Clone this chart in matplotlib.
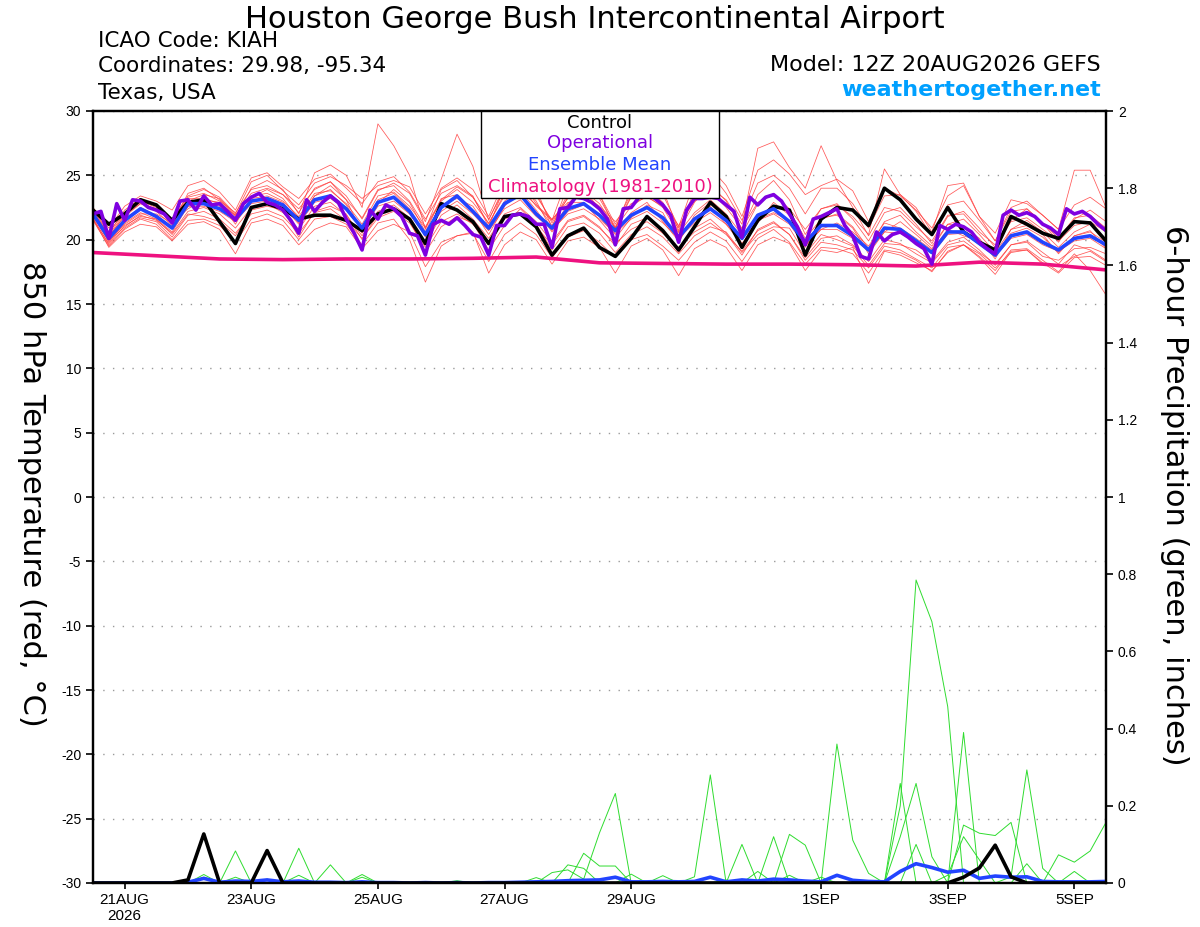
import numpy as np
import pandas as pd
import matplotlib
matplotlib.use("Agg")
import matplotlib.pyplot as plt
from matplotlib.patches import Rectangle

plt.rcParams["font.family"] = ["DejaVu Sans"]
plt.rcParams["axes.unicode_minus"] = False

# GEFS run 12Z 20AUG2026, 6-hourly out to 384 h (operational GFS 3-hourly)
times = pd.date_range("2026-08-20 12:00", periods=65, freq="6h")
times_op = pd.date_range("2026-08-20 12:00", periods=129, freq="3h")
times_clim = pd.date_range("2026-08-20 12:00", periods=17, freq="24h")

tick_days = pd.to_datetime(["2026-08-21", "2026-08-23", "2026-08-25", "2026-08-27",
                            "2026-08-29", "2026-09-01", "2026-09-03", "2026-09-05"])

# 850 hPa temperature (C)
control_t = [22.3, 21.2, 22.0, 23.1, 22.7, 21.5, 22.9, 23.1, 21.4, 19.7, 22.5, 22.8, 22.4,
             21.6, 21.9, 21.9, 21.5, 20.7, 22.0, 22.4, 21.6, 19.7, 22.8, 22.3, 21.4, 19.7,
             21.8, 22.0, 21.0, 18.8, 20.3, 20.9, 19.4, 18.7, 20.1, 21.8, 20.7, 19.2, 21.0,
             22.9, 21.8, 19.4, 21.5, 22.6, 22.3, 18.8, 21.6, 22.5, 22.3, 21.1, 24.0, 23.1,
             21.6, 20.4, 22.5, 20.6, 19.8, 19.2, 21.8, 21.2, 20.5, 20.1, 21.4, 21.3, 19.9]

mean_t = [22.0, 20.1, 21.5, 22.4, 21.8, 20.9, 22.8, 22.8, 22.4, 21.6, 23.0, 23.2, 22.7,
          21.5, 23.1, 23.4, 22.4, 20.9, 22.9, 23.3, 22.2, 20.4, 22.5, 23.4, 22.2, 20.9,
          22.8, 23.5, 22.0, 20.9, 22.4, 22.8, 21.9, 20.7, 21.9, 22.5, 21.7, 20.2, 21.6,
          22.4, 21.5, 20.1, 21.9, 22.4, 21.4, 19.8, 21.1, 21.1, 20.3, 19.2, 20.9, 20.8,
          19.9, 19.0, 20.6, 20.6, 19.7, 18.8, 20.3, 20.6, 19.8, 19.2, 20.1, 20.3, 19.6]

oper_t = [22.0, 22.2, 20.1, 22.8, 21.5, 23.1, 23.0, 22.5, 22.3, 22.0, 21.3, 23.0, 23.1,
          22.3, 23.4, 22.7, 22.8, 22.2, 21.5, 22.8, 23.3, 23.6, 22.9, 22.7, 22.3, 21.5,
          20.5, 23.1, 22.2, 22.9, 23.4, 22.9, 21.6, 20.5, 19.2, 22.3, 21.6, 22.7, 22.4,
          21.8, 20.5, 20.3, 18.8, 21.2, 21.5, 21.2, 21.7, 21.1, 20.4, 20.2, 18.8, 21.1,
          21.1, 21.9, 22.0, 21.8, 21.2, 21.2, 19.4, 22.4, 22.5, 23.3, 23.2, 22.9, 22.4,
          21.6, 19.6, 22.4, 22.5, 23.3, 23.7, 23.2, 22.7, 21.9, 19.8, 22.3, 23.2, 23.2,
          23.3, 23.2, 22.7, 22.2, 20.2, 23.3, 22.7, 23.3, 23.5, 23.0, 22.0, 21.0, 19.6,
          21.6, 21.8, 22.1, 22.4, 21.1, 20.3, 18.7, 18.5, 20.6, 19.9, 20.4, 20.6, 20.2,
          19.7, 19.3, 18.1, 21.1, 20.8, 21.2, 21.0, 20.6, 19.8, 19.3, 18.9, 21.9, 22.3,
          21.9, 22.1, 21.8, 21.2, 20.9, 20.4, 22.4, 22.0, 22.2, 21.8, 21.2, 20.7]

clim_t = [19.0, 18.75, 18.5, 18.45, 18.5, 18.5, 18.55, 18.65, 18.2,
          18.15, 18.1, 18.1, 18.05, 17.95, 18.25, 18.1, 17.65]

members_t = [
    [22.3, 20.5, 22.3, 23.2, 22.6, 21.2, 23.6, 24.0, 23.1, 21.8, 24.0, 24.6, 23.9,
     22.0, 25.2, 25.8, 25.0, 22.5, 29.0, 27.3, 25.0, 20.8, 23.9, 24.6, 23.3,
     21.2, 23.6, 24.5, 23.0, 20.7, 22.8, 23.9, 22.4, 20.9, 22.6, 23.4, 22.5,
     20.5, 22.1, 23.1, 22.0, 20.4, 22.8, 23.6, 22.2, 20.1, 21.6, 22.0, 21.0,
     19.3, 21.4, 21.9, 20.6, 19.5, 21.2, 21.6, 20.4, 19.0, 20.8, 21.5, 20.6,
     19.4, 20.6, 21.2, 20.0],
    [22.1, 20.3, 21.8, 22.8, 22.4, 21.5, 23.0, 23.5, 23.2, 21.9, 23.6, 24.0, 23.5,
     22.4, 23.9, 24.5, 23.4, 21.6, 23.8, 24.4, 23.6, 21.4, 24.7, 28.2, 25.7,
     21.5, 24.2, 25.3, 23.6, 21.3, 23.5, 24.4, 23.2, 21.0, 23.4, 24.0, 22.9,
     20.6, 22.9, 24.3, 23.0, 20.8, 23.5, 24.6, 23.1, 20.4, 22.4, 22.8, 21.6,
     19.9, 22.1, 22.5, 21.2, 19.7, 21.8, 22.2, 20.9, 19.4, 21.5, 22.4, 21.3,
     19.8, 21.6, 22.3, 21.4],
    [21.6, 19.4, 20.6, 21.2, 21.0, 19.9, 21.2, 21.4, 20.8, 18.9, 21.3, 21.6, 21.1,
     19.6, 20.8, 21.3, 21.0, 19.3, 20.7, 21.2, 20.6, 17.9, 19.8, 20.3, 20.6,
     17.4, 19.6, 20.6, 20.0, 18.1, 19.9, 20.2, 19.4, 17.4, 19.5, 20.1, 19.2,
     17.2, 19.3, 20.0, 19.4, 17.6, 19.6, 20.2, 19.7, 17.6, 19.2, 19.0, 19.4,
     16.6, 19.1, 18.8, 18.2, 17.6, 19.0, 19.6, 18.6, 17.3, 19.1, 19.2, 18.2,
     17.4, 18.6, 18.7, 18.0],
    [22.5, 20.9, 22.6, 23.4, 23.0, 22.3, 24.2, 24.6, 23.7, 22.3, 24.8, 25.2, 24.1,
     23.2, 24.7, 25.1, 24.0, 22.8, 24.5, 24.9, 23.7, 21.6, 23.6, 24.2, 23.4,
     21.0, 24.1, 24.8, 23.4, 21.5, 24.9, 25.3, 23.5, 21.2, 23.6, 24.4, 23.5,
     21.0, 24.5, 25.6, 24.2, 21.8, 25.4, 26.2, 25.1, 23.5, 24.2, 24.7, 23.8,
     21.4, 24.0, 23.4, 22.3, 20.9, 23.4, 24.2, 21.8, 20.5, 23.1, 22.8, 21.9,
     20.8, 22.7, 23.3, 22.4],
    [21.9, 19.8, 21.3, 22.1, 21.6, 20.6, 22.6, 22.9, 22.6, 21.5, 23.2, 23.4, 22.9,
     21.3, 23.4, 23.9, 22.7, 20.7, 23.1, 23.6, 22.4, 20.2, 22.7, 23.2, 22.6,
     20.8, 23.0, 23.8, 22.3, 20.6, 22.2, 22.7, 21.8, 20.4, 22.1, 22.9, 21.4,
     19.9, 21.7, 22.6, 21.2, 19.6, 21.6, 22.1, 21.5, 19.6, 20.8, 21.3, 20.6,
     19.5, 21.3, 20.9, 20.1, 19.2, 20.8, 20.3, 19.9, 18.9, 20.5, 20.9, 20.2,
     19.0, 20.3, 20.7, 19.3],
    [21.7, 19.6, 20.9, 21.7, 21.4, 20.2, 21.9, 22.2, 21.6, 20.5, 22.0, 22.3, 21.8,
     20.5, 22.1, 22.4, 21.5, 20.1, 21.7, 22.2, 21.3, 19.4, 21.4, 22.0, 21.2,
     19.8, 21.6, 22.1, 21.0, 19.6, 21.4, 21.8, 20.9, 19.7, 20.8, 21.4, 20.5,
     19.4, 20.6, 21.3, 20.4, 19.1, 20.7, 21.3, 20.4, 18.6, 20.1, 20.3, 19.6,
     18.3, 20.0, 19.7, 18.9, 18.2, 19.6, 19.9, 19.0, 18.1, 19.6, 19.8, 18.7,
     18.4, 19.3, 19.4, 18.9],
    [22.2, 20.4, 22.0, 22.9, 22.2, 21.1, 23.2, 23.2, 22.8, 21.9, 23.4, 23.6, 23.0,
     21.8, 23.6, 23.8, 22.8, 21.2, 23.4, 23.7, 22.6, 20.9, 23.0, 23.9, 22.9,
     21.3, 23.4, 24.2, 22.6, 21.5, 23.2, 23.5, 22.6, 21.4, 22.8, 23.3, 22.6,
     20.9, 23.2, 24.0, 23.1, 21.2, 27.1, 27.6, 25.6, 24.0, 27.3, 24.6, 22.5,
     20.3, 22.5, 22.2, 21.0, 19.9, 21.9, 22.0, 20.6, 19.6, 21.4, 21.7, 20.8,
     19.9, 21.1, 21.4, 20.6],
    [21.8, 19.9, 21.0, 21.9, 21.5, 20.5, 22.2, 22.5, 22.0, 20.9, 22.5, 22.8, 22.1,
     20.8, 22.6, 22.9, 21.9, 20.3, 22.2, 22.7, 21.7, 19.6, 21.9, 22.7, 21.6,
     20.1, 22.0, 22.5, 21.4, 19.8, 21.5, 21.9, 21.0, 19.5, 21.2, 21.7, 20.8,
     19.0, 20.9, 21.6, 20.5, 18.8, 20.8, 21.4, 20.4, 18.4, 19.8, 19.6, 19.2,
     17.8, 19.5, 19.2, 18.5, 17.8, 19.4, 19.6, 18.7, 17.6, 19.2, 19.3, 18.4,
     17.5, 18.9, 17.6, 15.7],
    [22.4, 20.6, 22.1, 23.0, 22.5, 21.4, 23.3, 23.6, 23.0, 22.1, 23.9, 24.2, 23.5,
     22.1, 24.0, 24.5, 23.1, 21.7, 23.9, 24.2, 23.0, 21.0, 23.1, 24.1, 23.3,
     21.6, 23.9, 24.6, 22.8, 21.1, 23.3, 23.8, 22.8, 20.9, 23.3, 24.0, 22.8,
     21.1, 23.0, 23.8, 22.5, 20.9, 22.9, 23.5, 22.4, 20.8, 22.4, 22.7, 21.8,
     20.4, 25.5, 23.5, 22.5, 20.6, 24.2, 24.4, 21.8, 19.9, 22.5, 23.0, 21.9,
     20.8, 25.4, 25.4, 22.5],
    [22.0, 20.0, 21.6, 22.5, 21.9, 21.0, 22.6, 22.6, 22.2, 21.4, 22.8, 23.0, 22.6,
     21.2, 22.9, 23.2, 22.3, 20.8, 22.6, 23.0, 22.0, 20.3, 22.2, 23.0, 22.0,
     20.7, 22.4, 23.1, 21.8, 20.8, 22.0, 22.4, 21.6, 20.5, 21.6, 22.2, 21.3,
     20.1, 21.3, 22.1, 21.2, 20.0, 21.5, 22.0, 21.2, 19.5, 20.8, 20.8, 20.1,
     19.1, 20.6, 20.5, 19.8, 18.9, 20.4, 20.5, 19.6, 18.7, 20.1, 20.4, 19.6,
     19.1, 19.9, 20.1, 19.3],
    [21.5, 19.5, 20.8, 21.6, 21.2, 20.0, 21.5, 21.6, 21.1, 19.8, 21.6, 22.0, 21.5,
     20.0, 21.6, 21.8, 21.2, 19.6, 21.3, 21.6, 20.0, 16.7, 19.5, 20.3, 20.5,
     18.3, 20.4, 21.3, 20.4, 18.6, 20.2, 20.7, 19.8, 18.6, 20.0, 20.4, 19.5,
     18.4, 19.8, 20.6, 19.9, 18.3, 20.1, 20.8, 19.8, 18.1, 19.4, 19.3, 18.9,
     17.4, 19.2, 19.0, 18.4, 17.5, 19.1, 19.6, 18.9, 17.8, 19.0, 19.2, 18.1,
     17.9, 18.7, 19.1, 18.3],
    [22.2, 20.2, 21.9, 22.8, 22.4, 21.6, 23.4, 23.9, 23.3, 22.0, 24.5, 25.0, 23.8,
     22.7, 24.4, 24.9, 24.2, 23.2, 24.2, 24.6, 24.1, 22.0, 24.0, 24.8, 23.9,
     21.8, 24.6, 25.0, 24.0, 20.9, 24.2, 24.9, 23.5, 20.8, 24.0, 24.9, 23.9,
     20.7, 23.8, 25.2, 23.6, 21.5, 24.4, 25.0, 24.0, 22.0, 24.0, 24.0, 22.8,
     20.9, 23.4, 23.5, 22.2, 20.3, 22.7, 23.0, 21.5, 19.9, 22.2, 22.4, 21.3,
     20.1, 21.7, 21.9, 20.9],
    [21.9, 20.0, 21.2, 22.0, 22.0, 21.3, 22.4, 23.1, 22.9, 21.2, 23.3, 23.9, 23.2,
     21.6, 23.4, 24.2, 23.1, 20.5, 22.8, 23.9, 22.9, 20.6, 23.2, 23.5, 22.3,
     20.4, 22.6, 23.8, 22.7, 21.6, 22.9, 22.9, 21.5, 20.1, 21.7, 22.7, 22.1,
     19.8, 21.9, 22.9, 21.8, 19.7, 21.3, 22.9, 21.9, 19.4, 21.7, 21.9, 20.9,
     18.9, 20.6, 21.4, 20.4, 19.3, 21.2, 21.0, 20.1, 18.5, 20.8, 21.1, 20.4,
     18.9, 20.3, 20.6, 19.8],
    [21.6, 19.7, 21.1, 21.8, 21.6, 20.4, 22.0, 21.8, 21.4, 20.3, 22.3, 22.6, 22.3,
     20.2, 22.2, 22.6, 22.0, 20.0, 22.0, 22.4, 21.5, 19.0, 21.0, 21.8, 21.3,
     19.2, 21.1, 22.4, 21.2, 19.2, 21.0, 21.3, 20.5, 19.0, 20.4, 21.0, 20.2,
     18.9, 20.3, 21.0, 20.6, 19.0, 20.4, 21.0, 20.9, 18.9, 20.4, 20.0, 19.5,
     18.0, 19.7, 19.6, 19.2, 18.3, 19.8, 20.2, 19.2, 18.0, 19.6, 19.9, 19.0,
     18.1, 19.6, 19.2, 18.4],
]

# 6-hour precipitation (inches), only non-zero steps listed
control_p = {6: 0.008, 7: 0.127, 11: 0.084, 55: 0.015, 56: 0.039, 57: 0.098, 58: 0.016}

mean_p = [0, 0, 0, 0, 0, 0, 0.002, 0.012, 0.002, 0.005,
          0.004, 0.008, 0.003, 0.005, 0.002, 0.002, 0.001, 0.003, 0.001, 0.001,
          0, 0.001, 0, 0.001, 0, 0.001, 0.001, 0.002, 0.003, 0.004,
          0.006, 0.007, 0.008, 0.015, 0.003, 0.003, 0.004, 0.003, 0.004, 0.015,
          0.003, 0.008, 0.005, 0.01, 0.008, 0.005, 0.003, 0.02, 0.007, 0.004,
          0.003, 0.03, 0.05, 0.04, 0.028, 0.033, 0.012, 0.018, 0.015, 0.016,
          0.004, 0.003, 0.003, 0.003, 0.004]

members_p = [
    {7: 0.022, 9: 0.083, 11: 0.01},
    {7: 0.015, 13: 0.09, 15: 0.047},
    {9: 0.015, 13: 0.02, 17: 0.022, 28: 0.014, 30: 0.047, 31: 0.038},
    {17: 0.015, 23: 0.006, 29: 0.027, 30: 0.034, 31: 0.01, 32: 0.13, 33: 0.232},
    {31: 0.077, 32: 0.044, 33: 0.044, 36: 0.019, 38: 0.016, 39: 0.28},
    {34: 0.023, 41: 0.10, 44: 0.126, 45: 0.098, 47: 0.36, 48: 0.111, 49: 0.025},
    {43: 0.12, 51: 0.2, 52: 0.785, 53: 0.677, 54: 0.457},
    {51: 0.258, 55: 0.39},
    {51: 0.12, 52: 0.258, 53: 0.068, 55: 0.15, 56: 0.129, 57: 0.123, 58: 0.157},
    {58: 0.016, 59: 0.293, 60: 0.038},
    {59: 0.05, 61: 0.073, 62: 0.054, 63: 0.083, 64: 0.157},
    {40: 0.008, 42: 0.03, 44: 0.02, 46: 0.015, 52: 0.1, 54: 0.02, 55: 0.12, 56: 0.06, 62: 0.03},
]


def full(steps):
    arr = np.zeros(len(times))
    for k, v in steps.items():
        arr[k] = v
    return arr


RED = "#ff3a3a"
GREEN = "#2fdc2f"
PURPLE = "#7f00e0"
BLUE = "#2244ff"
MAGENTA = "#ee1180"
TICKFONT = "Liberation Sans"

fig = plt.figure(figsize=(12, 9.27), dpi=100)
ax = fig.add_axes([93 / 1200, 1 - 883 / 927, (1106 - 93) / 1200, (883 - 111) / 927])

for m in members_t:
    ax.plot(times, m, color=RED, lw=0.55, alpha=0.85)
ax.plot(times_clim, clim_t, color=MAGENTA, lw=2.6)
ax.plot(times, control_t, color="black", lw=2.6)
ax.plot(times, mean_t, color=BLUE, lw=2.6)
ax.plot(times_op, oper_t, color=PURPLE, lw=2.6)

ax.set_ylim(-30, 30)
ax.set_yticks(np.arange(-30, 31, 5))
ax.set_xlim(times[0], times[-1])
ax.set_xticks(tick_days)
labels = [f"{d.day}{d.strftime('%b').upper()}" for d in tick_days]
labels[0] += "\n2026"
ax.set_xticklabels(labels)
ax.grid(axis="y", color="#9a9a9a", linestyle=(0, (1, 6)), lw=1)
ax.tick_params(axis="y", labelsize=10, length=5, width=1.2, labelfontfamily=TICKFONT)
ax.tick_params(axis="x", labelsize=11, length=4, width=1.2, pad=3, labelfontfamily=TICKFONT)

ax2 = ax.twinx()
for d in members_p:
    ax2.plot(times, full(d), color=GREEN, lw=0.7)
ax2.plot(times, mean_p, color=BLUE, lw=2.6)
ax2.plot(times, full(control_p), color="black", lw=2.6)
ax2.set_ylim(0, 2)
ax2.set_yticks(np.arange(0, 2.01, 0.2))
ax2.set_yticklabels([f"{v:g}" for v in np.round(np.arange(0, 2.01, 0.2), 1)])
ax2.tick_params(axis="y", labelsize=10, length=5, width=1.2, labelfontfamily=TICKFONT)

for a in (ax, ax2):
    for s in a.spines.values():
        s.set_linewidth(1.6)

fig.text(0.026, 0.467, "850 hPa Temperature (red, °C)", rotation=270,
         fontsize=22, ha="center", va="center")
fig.text(0.979, 0.466, "6-hour Precipitation (green, inches)", rotation=270,
         fontsize=22, ha="center", va="center")

# header
fig.text(0.496, 1 - 28.5 / 927, "Houston George Bush Intercontinental Airport",
         fontsize=22, ha="center", va="baseline")
fig.text(98 / 1200, 1 - 46.7 / 927, "ICAO Code: KIAH", fontsize=15.5, va="baseline")
fig.text(98 / 1200, 1 - 72 / 927, "Coordinates: 29.98, -95.34", fontsize=15.5, va="baseline")
fig.text(98 / 1200, 1 - 99 / 927, "Texas, USA", fontsize=15.5, va="baseline")
fig.text(1101 / 1200, 1 - 71 / 927, "Model: 12Z 20AUG2026 GEFS", fontsize=16,
         ha="right", va="baseline")
fig.text(1101 / 1200, 1 - 96.5 / 927, "weathertogether.net", fontsize=16,
         fontweight="bold", color="#00a0ff", ha="right", va="baseline")

# legend box
fig.add_artist(Rectangle((481 / 1200, 1 - 198 / 927), 238 / 1200, 87 / 927,
                         transform=fig.transFigure, facecolor="white",
                         edgecolor="black", lw=1, zorder=5))
leg = [("Control", "black", 127.5), ("Operational", PURPLE, 148),
       ("Ensemble Mean", BLUE, 169.5), ("Climatology (1981-2010)", MAGENTA, 191.5)]
for txt, col, yb in leg:
    fig.text(600 / 1200, 1 - yb / 927, txt, color=col, fontsize=13,
             ha="center", va="baseline", zorder=6)

fig.savefig("out.png", dpi=100)
